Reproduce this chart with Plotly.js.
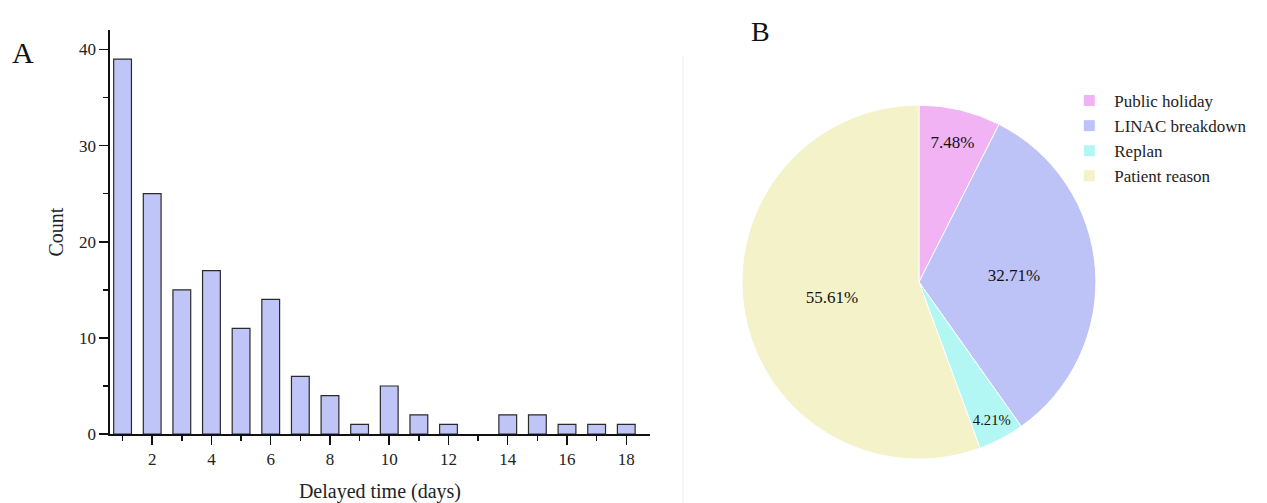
<!DOCTYPE html>
<html>
<head>
<meta charset="utf-8">
<script src="https://cdn.plot.ly/plotly-3.0.1.min.js"></script>
<style>html,body{margin:0;padding:0;background:#fff;}#chart{width:1267px;height:503px;}</style>
</head>
<body>
<div id="chart"></div>
<script>
// Panel A: delayed time histogram
const delayDays = [1,2,3,4,5,6,7,8,9,10,11,12,13,14,15,16,17,18];
const delayCounts = [39,25,15,17,11,14,6,4,1,5,2,1,0,2,2,1,1,1];
const xTickVals = [2,4,6,8,10,12,14,16,18];
const yTickVals = [0,10,20,30,40];

// Panel B: delay reasons
const reasonLabels = ["Public holiday","LINAC breakdown","Replan","Patient reason"];
const reasonValues = [16,70,9,119];
const reasonColors = ["#f2b3f4","#bdc3f7","#b3f7f5","#f3f2c9"];

const serif = "Liberation Serif, Times New Roman, serif";

const traces = [
  {
    type: "bar",
    x: delayDays,
    y: delayCounts,
    width: 0.6,
    marker: {color: "#bfc6f7", line: {color: "#2a2a2a", width: delayCounts.map(c => c > 0 ? 1.2 : 0)}},
    xaxis: "x", yaxis: "y",
    showlegend: false,
    hoverinfo: "x+y"
  },
  {
    type: "pie",
    labels: reasonLabels,
    values: reasonValues,
    sort: false,
    direction: "clockwise",
    rotation: 0,
    marker: {colors: reasonColors, line: {color: "#ffffff", width: 1}},
    texttemplate: "%{percent:.2%}",
    textposition: "inside",
    insidetextorientation: "horizontal",
    textfont: {family: serif, size: 17, color: "#111"},
    domain: {x: [0.5856, 0.865], y: [0.0875, 0.791]},
    showlegend: true
  }
];

const layout = {
  width: 1267, height: 503,
  margin: {l: 0, r: 0, t: 0, b: 0},
  paper_bgcolor: "#fff", plot_bgcolor: "#fff",
  font: {family: serif, size: 17, color: "#222"},
  xaxis: {
    domain: [0.0868, 0.513],
    range: [0.575, 18.8],
    tickvals: xTickVals,
    ticks: "outside", ticklen: 9, tickwidth: 1.5, tickcolor: "#111",
    minor: {dtick: 1, tick0: 1, ticks: "outside", ticklen: 5, tickwidth: 1.5, tickcolor: "#111", showgrid: false},
    showline: true, linecolor: "#111", linewidth: 1.5,
    showgrid: false, zeroline: false,
    tickfont: {family: serif, size: 17, color: "#222"},
    title: {text: "Delayed time (days)", font: {family: serif, size: 20, color: "#222"}, standoff: 16}
  },
  yaxis: {
    domain: [0.137, 0.940],
    range: [0, 42],
    tickvals: yTickVals,
    ticks: "outside", ticklen: 9, tickwidth: 1.5, tickcolor: "#111",
    minor: {dtick: 5, tick0: 0, ticks: "outside", ticklen: 5, tickwidth: 1.5, tickcolor: "#111", showgrid: false},
    showline: true, linecolor: "#111", linewidth: 1.5,
    showgrid: false, zeroline: false,
    tickfont: {family: serif, size: 17, color: "#222"},
    title: {text: "Count", font: {family: serif, size: 20, color: "#222"}, standoff: 10}
  },
  legend: {
    x: 0.840, y: 0.835, xanchor: "left", yanchor: "top",
    font: {family: serif, size: 17, color: "#222"},
    tracegroupgap: 0, itemwidth: 40,
    bgcolor: "rgba(0,0,0,0)"
  },
  shapes: [
    {type: "line", xref: "paper", yref: "paper", x0: 0.539, x1: 0.539, y0: 0, y1: 0.89,
     line: {color: "#eeeeee", width: 1}}
  ],
  annotations: [
    {text: "A", xref: "paper", yref: "paper", x: 0.018, y: 0.895, xanchor: "center", yanchor: "middle",
     showarrow: false, font: {family: serif, size: 30, color: "#111"}},
    {text: "B", xref: "paper", yref: "paper", x: 0.6, y: 0.937, xanchor: "center", yanchor: "middle",
     showarrow: false, font: {family: serif, size: 28, color: "#111"}}
  ]
};

Plotly.newPlot("chart", traces, layout, {displayModeBar: false, staticPlot: true});
</script>
</body>
</html>
